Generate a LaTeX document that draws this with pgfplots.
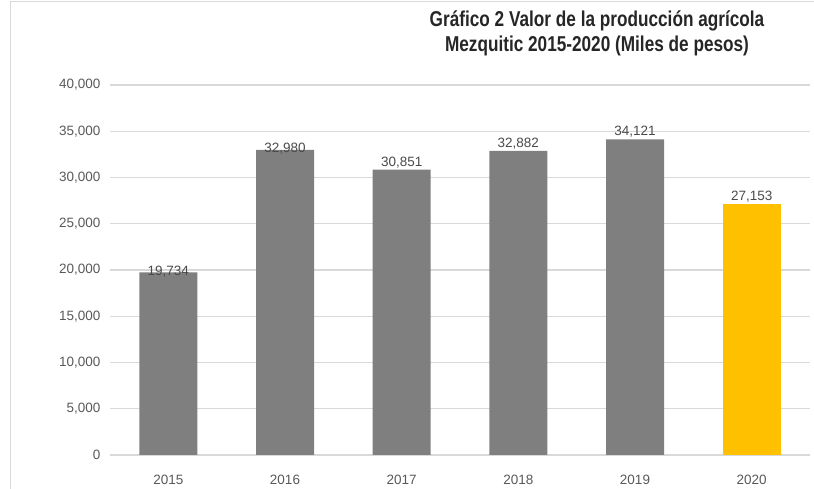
\documentclass[border=0pt]{standalone}
\usepackage{pgfplots}
\pgfplotsset{compat=1.18}
\usepackage{fontspec}
\setmainfont{Liberation Sans}
\newfontfamily\titlefont[FakeStretch=0.8]{Liberation Sans}
\definecolor{bargray}{HTML}{7F7F7F}
\definecolor{baryellow}{HTML}{FFC000}
\definecolor{txtgray}{HTML}{595959}
\definecolor{valgray}{HTML}{4A4A4A}
\definecolor{gridgray}{HTML}{D9D9D9}
\begin{document}
\begin{tikzpicture}[x=1pt,y=1pt]
\useasboundingbox (0,0) rectangle (814,489);
\draw[gridgray, line width=1pt] (10,-2) -- (10,487) -- (820,487);
\node[align=center, font=\titlefont\bfseries\fontsize{21.5}{25}\selectfont, text=black!85] at (597,456)
  {Gráfico 2 Valor de la producción agrícola\\Mezquitic 2015-2020 (Miles de pesos)};
\begin{axis}[
  at={(110pt,34pt)}, anchor=south west,
  scale only axis, width=700pt, height=370pt,
  ybar, bar width=58pt,
  xmin=-0.5, xmax=5.5, ymin=0, ymax=40000,
  xtick={0,1,2,3,4,5},
  xticklabels={2015,2016,2017,2018,2019,2020},
  ytick={0,5000,...,40000},
  axis line style={draw=none},
  major tick length=0pt,
  ymajorgrids, grid style={gridgray, line width=1.2pt},
  /pgf/number format/.cd, 1000 sep={,}, assume math mode=true,
  /pgfplots/.cd,
  scaled y ticks=false,
  tick label style={font=\fontsize{13.5}{16}\selectfont, text=txtgray},
  yticklabel style={anchor=east, xshift=-6pt},
  xticklabel style={yshift=-17pt},
  nodes near coords,
  nodes near coords style={font=\fontsize{13.5}{16}\selectfont, text=valgray, anchor=south, inner sep=1.5pt},
]
\addplot[fill=bargray, draw=none, bar shift=0pt, nodes near coords style={yshift=-6pt}] coordinates {(0,19734) (1,32980)};
\addplot[fill=bargray, draw=none, bar shift=0pt] coordinates {(2,30851) (3,32882) (4,34121)};
\addplot[fill=baryellow, draw=none, bar shift=0pt] coordinates {(5,27153)};
\end{axis}
\end{tikzpicture}
\end{document}
